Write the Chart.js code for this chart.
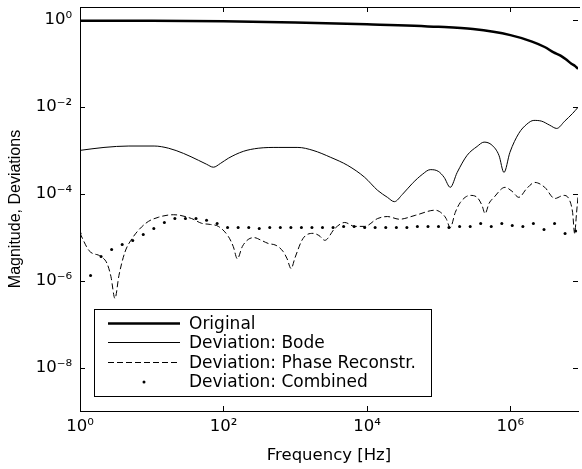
<!DOCTYPE html>
<html>
<head>
<meta charset="utf-8">
<script src="https://cdn.jsdelivr.net/npm/chart.js@4/dist/chart.umd.min.js"></script>
<style>
html,body{margin:0;padding:0;background:#fff;}
canvas{display:block;}
</style>
</head>
<body>
<canvas id="c" width="582" height="469" style="width:582px;height:469px"></canvas>
<script>
// ---- Tick values ----
const xTicks = [1, 1e2, 1e4, 1e6];
const yTicks = [1, 1e-2, 1e-4, 1e-6, 1e-8];

// ---- Original ----
const origFreq = [1, 10, 100, 1000, 1e4, 1e5, 3e5, 1e6, 2e6, 3e6, 4e6, 5e6, 6e6, 7e6, 8e6, 8.75e6];
const origVal  = [0.96, 0.96, 0.94, 0.88, 0.80, 0.70, 0.62, 0.45, 0.32, 0.24, 0.18, 0.152, 0.123, 0.10, 0.087, 0.075];

// ---- Deviation: Bode ----
const bodeFreq = [1, 2.16, 4.8, 10.8, 17.2, 27.8, 44.9, 58, 72.4, 90.6, 117, 189, 305, 577, 1090, 1770, 3130, 5400, 9290,
  14100, 19300, 24100, 31200, 43000, 59100, 76300, 98500, 119000, 145000, 181000, 249000, 343000, 429000, 553000,
  692000, 813000, 984000, 1310000, 1690000, 2120000, 2730000, 3530000, 4420000, 5700000, 7360000, 8750000];
const bodeVal  = [1.0e-3, 1.17e-3, 1.26e-3, 1.26e-3, 1.12e-3, 8.5e-4, 5.9e-4, 4.8e-4, 4.1e-4, 5.0e-4, 6.6e-4, 9.5e-4, 1.12e-3, 1.17e-3, 1.17e-3, 1.0e-3, 6.9e-4, 4.5e-4, 2.4e-4,
  1.2e-4, 8.3e-5, 6.6e-5, 9.7e-5, 1.74e-4, 2.8e-4, 3.6e-4, 3.3e-4, 2.4e-4, 1.41e-4, 3.1e-4, 7.7e-4, 1.23e-3, 1.55e-3, 1.32e-3,
  7.7e-4, 3.1e-4, 9.0e-4, 2.47e-3, 4.0e-3, 4.9e-3, 4.7e-3, 3.8e-3, 3.2e-3, 4.7e-3, 7.1e-3, 9.8e-3];

// ---- Deviation: Phase Reconstr. ----
const phaseFreq = [1, 1.34, 1.96, 2.38, 2.7, 3.07, 3.49, 4.22, 5.12, 8.26, 12.5, 20.2, 35.9, 49.4, 65.8, 84.9, 117, 137, 156, 183,
  221, 268, 336, 420, 542, 678, 771, 875, 995, 1280, 1770, 2140, 2590, 3560, 4900, 6740, 9290, 14100, 19300, 28300, 47200,
  89500, 112000, 127000, 145000, 170000, 200000, 274000, 343000, 402000, 443000, 503000, 590000, 839000, 1050000,
  1310000, 1690000, 2190000, 3010000, 4150000, 5520000, 6680000, 7360000, 7850000, 8360000, 8750000];
const phaseVal  = [1.23e-5, 4.9e-6, 3.6e-6, 2.5e-6, 1.24e-6, 3.9e-7, 1.32e-6, 4.5e-6, 8.5e-6, 2.1e-5, 2.9e-5, 3.3e-5, 2.7e-5, 2.1e-5, 1.97e-5, 1.78e-5, 1.04e-5, 6.1e-6, 3.2e-6, 6.1e-6,
  8.9e-6, 9.8e-6, 8.5e-6, 7.2e-6, 6.5e-6, 4.7e-6, 3.2e-6, 1.9e-6, 3.4e-6, 9.3e-6, 1.23e-5, 1.1e-5, 8.5e-6, 1.59e-5, 2.19e-5, 1.78e-5, 1.78e-5, 2.7e-5, 3.0e-5, 2.6e-5, 3.2e-5,
  4.2e-5, 3.5e-5, 2.7e-5, 1.67e-5, 3.7e-5, 6.3e-5, 9.2e-5, 8.3e-5, 5.4e-5, 3.5e-5, 6.0e-5, 8.3e-5, 1.41e-4, 1.15e-4,
  8.3e-5, 1.33e-4, 1.83e-4, 1.41e-4, 7.8e-5, 9.2e-5, 7.1e-5, 3.7e-5, 1.23e-5, 3.7e-5, 8.5e-5];

// ---- Deviation: Combined ----
const combFreq = [1, 1.403, 1.968, 2.761, 3.873, 5.433, 7.621, 10.69, 15.0, 21.0, 29.5, 41.4, 58.1, 81.5, 114, 160, 225, 315,
  442, 620, 870, 1220, 1710, 2400, 3370, 4730, 6630, 9300, 13000, 18300, 25700, 36000, 50500, 70900, 99400, 139000,
  196000, 275000, 385000, 540000, 758000, 1060000, 1490000, 2090000, 2940000, 4120000, 5780000, 8110000];
const combVal  = [1.22e-5, 1.31e-6, 3.6e-6, 5.2e-6, 6.8e-6, 8.4e-6, 1.15e-5, 1.6e-5, 2.2e-5, 2.7e-5, 2.7e-5, 2.7e-5, 2.45e-5, 2.07e-5, 1.68e-5, 1.68e-5, 1.68e-5, 1.6e-5,
  1.68e-5, 1.68e-5, 1.68e-5, 1.68e-5, 1.68e-5, 1.68e-5, 1.68e-5, 1.77e-5, 1.77e-5, 1.68e-5, 1.68e-5, 1.68e-5, 1.68e-5, 1.68e-5, 1.77e-5, 1.77e-5, 1.77e-5, 1.68e-5,
  1.77e-5, 1.77e-5, 2.07e-5, 1.77e-5, 2.07e-5, 1.87e-5, 1.77e-5, 2.07e-5, 1.51e-5, 2.07e-5, 1.22e-5, 1.4e-5];

const zip = (xs, ys) => xs.map((x, i) => ({x: x, y: ys[i]}));

const sup = {'0':'\u2070','1':'\u00B9','2':'\u00B2','3':'\u00B3','4':'\u2074','5':'\u2075','6':'\u2076','7':'\u2077','8':'\u2078','9':'\u2079','-':'\u207B'};
function powLabel(v) {
  const e = Math.round(Math.log10(v));
  return '10' + String(e).split('').map(c => sup[c]).join('');
}

const TXT = '"DejaVu Sans", sans-serif';

const framePlugin = {
  id: 'frame',
  afterDatasetsDraw(chart) {
    const {ctx, chartArea: a, scales: {x, y}} = chart;
    ctx.save();
    ctx.strokeStyle = '#000';
    ctx.lineWidth = 1;
    ctx.setLineDash([]);
    ctx.beginPath();
    ctx.moveTo(a.left, Math.round(a.top) + 0.5);
    ctx.lineTo(a.right + 2, Math.round(a.top) + 0.5);
    xTicks.forEach(v => {
      const px = Math.round(x.getPixelForValue(v)) + 0.5;
      ctx.moveTo(px, a.bottom); ctx.lineTo(px, a.bottom - 5);
      ctx.moveTo(px, a.top); ctx.lineTo(px, a.top + 5);
    });
    yTicks.forEach(v => {
      const py = Math.round(y.getPixelForValue(v)) + 0.5;
      ctx.moveTo(a.left, py); ctx.lineTo(a.left + 5, py);
      ctx.moveTo(a.right, py); ctx.lineTo(a.right - 5, py);
    });
    ctx.stroke();

    // legend box
    const L = 94.5, T = 309.5, R = 431.5, B = 396.5;
    ctx.fillStyle = '#fff';
    ctx.fillRect(L, T, R - L, B - T);
    ctx.strokeRect(L, T, R - L, B - T);
    const rows = [323.5, 342.5, 362.5, 382];
    ctx.font = '17px ' + TXT;
    ctx.textBaseline = 'middle';
    ctx.textAlign = 'left';
    chart.data.datasets.forEach((ds, i) => {
      const ry = rows[i];
      ctx.strokeStyle = '#000';
      if (ds.showLine === false) {
        ctx.fillStyle = '#000';
        ctx.beginPath();
        ctx.arc(144, ry, ds.pointRadius, 0, Math.PI * 2);
        ctx.fill();
      } else {
        ctx.lineWidth = ds.borderWidth;
        ctx.setLineDash(ds.borderDash || []);
        ctx.beginPath();
        ctx.moveTo(108, ry); ctx.lineTo(180, ry);
        ctx.stroke();
        ctx.setLineDash([]);
      }
      ctx.fillStyle = '#000';
      ctx.fillText(ds.label, 189, Math.round(ry) + 1);
    });
    ctx.restore();
  }
};

new Chart(document.getElementById('c'), {
  type: 'line',
  data: {
    datasets: [
      {label: 'Original', data: zip(origFreq, origVal), borderColor: '#000', borderWidth: 2.5, pointRadius: 0, cubicInterpolationMode: 'monotone', fill: false},
      {label: 'Deviation: Bode', data: zip(bodeFreq, bodeVal), borderColor: '#000', borderWidth: 1, pointRadius: 0, cubicInterpolationMode: 'monotone', fill: false},
      {label: 'Deviation: Phase Reconstr.', data: zip(phaseFreq, phaseVal), borderColor: '#000', borderWidth: 1, borderDash: [6, 3], pointRadius: 0, cubicInterpolationMode: 'monotone', fill: false},
      {label: 'Deviation: Combined', data: zip(combFreq, combVal), showLine: false, borderColor: '#000', backgroundColor: '#000', pointBackgroundColor: '#000', pointBorderWidth: 0, pointRadius: 1.5, fill: false}
    ]
  },
  options: {
    responsive: false,
    animation: false,
    devicePixelRatio: 1,
    layout: {padding: {top: 7, right: 1, left: 0, bottom: 0}},
    plugins: {legend: {display: false}, tooltip: {enabled: false}},
    scales: {
      x: {
        type: 'logarithmic', min: 1, max: 8.75e6,
        grid: {display: false, drawTicks: false},
        border: {display: true, color: '#000', width: 1},
        afterBuildTicks: s => { s.ticks = xTicks.map(v => ({value: v})); },
        afterFit: s => { s.height = 58; s.paddingLeft = 0; s.paddingRight = 0; },
        ticks: {color: '#000', font: {family: TXT, size: 16.5}, padding: 6, maxRotation: 0, autoSkip: false, callback: v => powLabel(v)},
        title: {display: true, text: 'Frequency [Hz]', color: '#000', font: {family: TXT, size: 16.5}, padding: {top: 0, bottom: 3}}
      },
      y: {
        type: 'logarithmic', min: 1e-9, max: 2,
        grid: {display: false, drawTicks: false},
        border: {display: true, color: '#000', width: 1},
        afterBuildTicks: s => { s.ticks = yTicks.map(v => ({value: v})); },
        afterFit: s => { s.width = 80; s.paddingTop = 0; s.paddingBottom = 0; },
        ticks: {color: '#000', font: {family: TXT, size: 16.5}, padding: 8, autoSkip: false, callback: v => powLabel(v)},
        title: {display: true, text: 'Magnitude, Deviations', color: '#000', font: {family: '"Liberation Sans", Arial, sans-serif', size: 16}, padding: {top: 6, bottom: 0}}
      }
    }
  },
  plugins: [framePlugin]
});
</script>
</body>
</html>
